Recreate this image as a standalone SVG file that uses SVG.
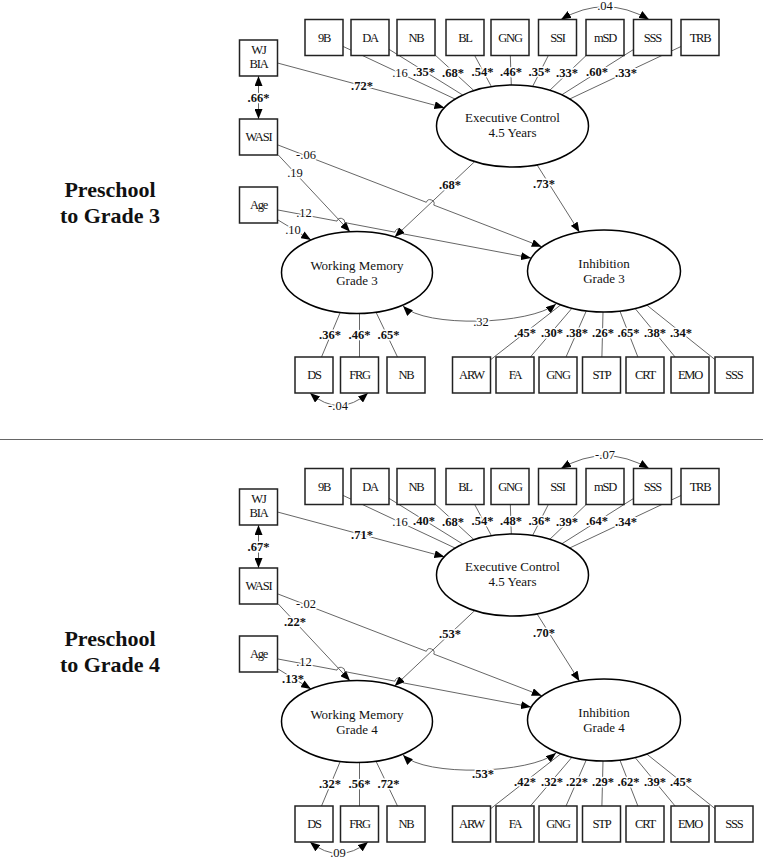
<svg xmlns="http://www.w3.org/2000/svg" width="764" height="861" viewBox="0 0 764 861">
<style>
.bx{fill:#fff;stroke:#222;stroke-width:1.5}
.el{fill:#fff;stroke:#000;stroke-width:1.5}
.bt{font-family:"Liberation Serif",serif;font-size:12.5px;text-anchor:middle;letter-spacing:-1.2px;fill:#111}
.et{font-family:"Liberation Serif",serif;font-size:13px;text-anchor:middle;fill:#111}
.ln{fill:none;stroke:#555;stroke-width:0.9}
.ar{marker-end:url(#ah)}
.ar2{marker-start:url(#ah);marker-end:url(#ah)}
.lbl{font-family:"Liberation Serif",serif;font-size:12.5px;text-anchor:middle;fill:#111;paint-order:stroke;stroke:#fff;stroke-width:3px;stroke-linejoin:round}
.b{font-weight:bold}
.pt{font-family:"Liberation Serif",serif;font-size:22px;font-weight:bold;text-anchor:middle;fill:#111}
</style>
<defs>
<marker id="ah" viewBox="0 0 10 8" refX="10" refY="4" markerWidth="10" markerHeight="8" orient="auto-start-reverse" markerUnits="userSpaceOnUse"><path d="M0,0 L10,4 L0,8 z" fill="#000"/></marker>
</defs>
<rect width="764" height="861" fill="#fff"/>

<g id="panel-g3">
<text class="pt" x="110" y="197">Preschool</text>
<text class="pt" x="110" y="223">to Grade 3</text>
<g id="g3-connectors">
<path class="ln ar2" d="M258.5,76 L258.5,119"/>
<path class="ln ar" d="M277.5,63 L444.4,107.8"/>
<path class="ln" d="M343,46.4 L455.2,99.1"/>
<path class="ln" d="M389,49.3 L462.7,95"/>
<path class="ln" d="M435,54.9 L474,90.7"/>
<path class="ln" d="M474.4,55 L491.4,86.6"/>
<path class="ln" d="M510.3,55 L511.3,85"/>
<path class="ln" d="M548.6,55 L532.6,86.5"/>
<path class="ln" d="M586.7,55 L549.8,90.3"/>
<path class="ln" d="M633.5,49.5 L561.8,94.8"/>
<path class="ln" d="M681,46.5 L569.7,99"/>
<path class="ln ar2" d="M561,19.5 Q605,-6 649,19.5"/>
<path class="ln ar" d="M278.3,155 L350,231.7"/>
<path class="ln ar" d="M278,145 L426.3,202.3 A4,4 0 0 1 433.8,205.1 L541.7,246.7"/>
<path class="ln ar" d="M278,220 L311,240"/>
<path class="ln ar" d="M278,210 L337,221.1 A4,4 0 0 1 344.8,222.6 L395,232.2 A4,4 0 0 1 402.9,233.8 L531,258"/>
<path class="ln ar" d="M474.7,161.6 L394.7,237"/>
<path class="ln ar" d="M537,164.8 L579.5,232.2"/>
<path class="ln ar2" d="M403,306 C425,328 530,325 556,304"/>
<path class="ln" d="M340.2,312.5 L321.5,357"/>
<path class="ln" d="M359.5,313.5 L359.5,357"/>
<path class="ln" d="M376,312.2 L397.5,357"/>
<path class="ln" d="M560.8,304.8 L490.4,359.9"/>
<path class="ln" d="M572,308.2 L530.4,357"/>
<path class="ln" d="M586.3,310.9 L566,357"/>
<path class="ln" d="M603,312 L601.9,357"/>
<path class="ln" d="M619.9,311.1 L637.9,357"/>
<path class="ln" d="M635.1,308.5 L675.1,357"/>
<path class="ln" d="M646.7,305 L715,359.6"/>
<path class="ln ar2" d="M310,393 Q339,418 368,393"/>
<text class="lbl b" x="258.5" y="102">.66*</text>
<text class="lbl b" x="362" y="90">.72*</text>
<text class="lbl" x="400" y="77">.16</text>
<text class="lbl b" x="424" y="76">.35*</text>
<text class="lbl b" x="453" y="77">.68*</text>
<text class="lbl b" x="482.5" y="76">.54*</text>
<text class="lbl b" x="511" y="76">.46*</text>
<text class="lbl b" x="539.5" y="76">.35*</text>
<text class="lbl b" x="567" y="77">.33*</text>
<text class="lbl b" x="597" y="76">.60*</text>
<text class="lbl b" x="626" y="77">.33*</text>
<text class="lbl" x="605" y="10">.04</text>
<text class="lbl" x="306" y="159">-.06</text>
<text class="lbl" x="295" y="177">.19</text>
<text class="lbl" x="304" y="217">.12</text>
<text class="lbl" x="293" y="234">.10</text>
<text class="lbl b" x="450" y="189">.68*</text>
<text class="lbl b" x="544" y="188">.73*</text>
<text class="lbl" x="481" y="326">.32</text>
<text class="lbl b" x="330" y="339">.36*</text>
<text class="lbl b" x="359.5" y="339">.46*</text>
<text class="lbl b" x="388.5" y="339">.65*</text>
<text class="lbl b" x="525" y="337">.45*</text>
<text class="lbl b" x="552" y="337">.30*</text>
<text class="lbl b" x="577" y="337">.38*</text>
<text class="lbl b" x="603" y="337">.26*</text>
<text class="lbl b" x="628.5" y="337">.65*</text>
<text class="lbl b" x="655" y="337">.38*</text>
<text class="lbl b" x="681" y="337">.34*</text>
<text class="lbl" x="338" y="410">-.04</text>
</g>
<g id="g3-wjbia"><rect class="bx" x="239.5" y="40" width="38" height="36"/><text class="bt" x="258.5" y="54">WJ</text><text class="bt" x="258.5" y="68">BIA</text></g>
<g id="g3-wasi"><rect class="bx" x="239.5" y="119" width="38" height="36"/><text class="bt" x="258.5" y="141">WASI</text></g>
<g id="g3-age"><rect class="bx" x="239.5" y="187" width="38" height="36"/><text class="bt" x="258.5" y="209">Age</text></g>
<g id="g3-9b"><rect class="bx" x="305" y="19.5" width="38" height="36"/><text class="bt" x="324" y="41.5">9B</text></g>
<g id="g3-da"><rect class="bx" x="351" y="19.5" width="38" height="36"/><text class="bt" x="370" y="41.5">DA</text></g>
<g id="g3-nb-ec"><rect class="bx" x="397" y="19.5" width="38" height="36"/><text class="bt" x="416" y="41.5">NB</text></g>
<g id="g3-bl"><rect class="bx" x="446" y="19.5" width="38" height="36"/><text class="bt" x="465" y="41.5">BL</text></g>
<g id="g3-gng-ec"><rect class="bx" x="491" y="19.5" width="38" height="36"/><text class="bt" x="510" y="41.5">GNG</text></g>
<g id="g3-ssi"><rect class="bx" x="538.5" y="19.5" width="38" height="36"/><text class="bt" x="557.5" y="41.5">SSI</text></g>
<g id="g3-msd"><rect class="bx" x="586" y="19.5" width="38" height="36"/><text class="bt" x="605" y="41.5">mSD</text></g>
<g id="g3-sss-ec"><rect class="bx" x="633.5" y="19.5" width="38" height="36"/><text class="bt" x="652.5" y="41.5">SSS</text></g>
<g id="g3-trb"><rect class="bx" x="681" y="19.5" width="38" height="36"/><text class="bt" x="700" y="41.5">TRB</text></g>
<g id="g3-ec"><ellipse class="el" cx="512.5" cy="126" rx="76" ry="41"/><text class="et" x="512.5" y="122">Executive Control</text><text class="et" x="512.5" y="137">4.5 Years</text></g>
<g id="g3-wm"><ellipse class="el" cx="357" cy="272.5" rx="75.5" ry="41"/><text class="et" x="357" y="270">Working Memory</text><text class="et" x="357" y="285">Grade 3</text></g>
<g id="g3-inh"><ellipse class="el" cx="604" cy="271" rx="76.5" ry="41"/><text class="et" x="604" y="268">Inhibition</text><text class="et" x="604" y="283">Grade 3</text></g>
<g id="g3-ds"><rect class="bx" x="295" y="357" width="38" height="36"/><text class="bt" x="314" y="379">DS</text></g>
<g id="g3-frg"><rect class="bx" x="340.5" y="357" width="38" height="36"/><text class="bt" x="359.5" y="379">FRG</text></g>
<g id="g3-nb-wm"><rect class="bx" x="387" y="357" width="38" height="36"/><text class="bt" x="406" y="379">NB</text></g>
<g id="g3-arw"><rect class="bx" x="452.5" y="357" width="38" height="36"/><text class="bt" x="471.5" y="379">ARW</text></g>
<g id="g3-fa"><rect class="bx" x="496" y="357" width="38" height="36"/><text class="bt" x="515" y="379">FA</text></g>
<g id="g3-gng-inh"><rect class="bx" x="539" y="357" width="38" height="36"/><text class="bt" x="558" y="379">GNG</text></g>
<g id="g3-stp"><rect class="bx" x="582.5" y="357" width="38" height="36"/><text class="bt" x="601.5" y="379">STP</text></g>
<g id="g3-crt"><rect class="bx" x="626" y="357" width="38" height="36"/><text class="bt" x="645" y="379">CRT</text></g>
<g id="g3-emo"><rect class="bx" x="671" y="357" width="38" height="36"/><text class="bt" x="690" y="379">EMO</text></g>
<g id="g3-sss-inh"><rect class="bx" x="715" y="357" width="38" height="36"/><text class="bt" x="734" y="379">SSS</text></g>
</g>

<line x1="0" y1="439.5" x2="763" y2="439.5" stroke="#666" stroke-width="1"/>

<g id="panel-g4" transform="translate(0,449)">
<text class="pt" x="110" y="197">Preschool</text>
<text class="pt" x="110" y="223">to Grade 4</text>
<g id="g4-connectors">
<path class="ln ar2" d="M258.5,76 L258.5,119"/>
<path class="ln ar" d="M277.5,63 L444.4,107.8"/>
<path class="ln" d="M343,46.4 L455.2,99.1"/>
<path class="ln" d="M389,49.3 L462.7,95"/>
<path class="ln" d="M435,54.9 L474,90.7"/>
<path class="ln" d="M474.4,55 L491.4,86.6"/>
<path class="ln" d="M510.3,55 L511.3,85"/>
<path class="ln" d="M548.6,55 L532.6,86.5"/>
<path class="ln" d="M586.7,55 L549.8,90.3"/>
<path class="ln" d="M633.5,49.5 L561.8,94.8"/>
<path class="ln" d="M681,46.5 L569.7,99"/>
<path class="ln ar2" d="M561,19.5 Q605,-6 649,19.5"/>
<path class="ln ar" d="M278.3,155 L350,231.7"/>
<path class="ln ar" d="M278,145 L426.3,202.3 A4,4 0 0 1 433.8,205.1 L541.7,246.7"/>
<path class="ln ar" d="M278,220 L311,240"/>
<path class="ln ar" d="M278,210 L337,221.1 A4,4 0 0 1 344.8,222.6 L395,232.2 A4,4 0 0 1 402.9,233.8 L531,258"/>
<path class="ln ar" d="M474.7,161.6 L394.7,237"/>
<path class="ln ar" d="M537,164.8 L579.5,232.2"/>
<path class="ln ar2" d="M403,306 C425,328 530,325 556,304"/>
<path class="ln" d="M340.2,312.5 L321.5,357"/>
<path class="ln" d="M359.5,313.5 L359.5,357"/>
<path class="ln" d="M376,312.2 L397.5,357"/>
<path class="ln" d="M560.8,304.8 L490.4,359.9"/>
<path class="ln" d="M572,308.2 L530.4,357"/>
<path class="ln" d="M586.3,310.9 L566,357"/>
<path class="ln" d="M603,312 L601.9,357"/>
<path class="ln" d="M619.9,311.1 L637.9,357"/>
<path class="ln" d="M635.1,308.5 L675.1,357"/>
<path class="ln" d="M646.7,305 L715,359.6"/>
<path class="ln ar2" d="M310,393 Q339,416 368,393"/>
<text class="lbl b" x="258.5" y="102">.67*</text>
<text class="lbl b" x="362" y="90">.71*</text>
<text class="lbl" x="400" y="77">.16</text>
<text class="lbl b" x="424" y="76">.40*</text>
<text class="lbl b" x="453" y="77">.68*</text>
<text class="lbl b" x="482.5" y="76">.54*</text>
<text class="lbl b" x="511" y="76">.48*</text>
<text class="lbl b" x="539.5" y="76">.36*</text>
<text class="lbl b" x="567" y="77">.39*</text>
<text class="lbl b" x="597" y="76">.64*</text>
<text class="lbl b" x="626" y="77">.34*</text>
<text class="lbl" x="605" y="10">-.07</text>
<text class="lbl" x="306" y="159">-.02</text>
<text class="lbl b" x="295" y="177">.22*</text>
<text class="lbl" x="304" y="217">.12</text>
<text class="lbl b" x="293" y="234">.13*</text>
<text class="lbl b" x="450" y="189">.53*</text>
<text class="lbl b" x="544" y="188">.70*</text>
<text class="lbl b" x="483" y="329">.53*</text>
<text class="lbl b" x="330" y="339">.32*</text>
<text class="lbl b" x="359.5" y="339">.56*</text>
<text class="lbl b" x="388.5" y="339">.72*</text>
<text class="lbl b" x="525" y="337">.42*</text>
<text class="lbl b" x="552" y="337">.32*</text>
<text class="lbl b" x="577" y="337">.22*</text>
<text class="lbl b" x="603" y="337">.29*</text>
<text class="lbl b" x="628.5" y="337">.62*</text>
<text class="lbl b" x="655" y="337">.39*</text>
<text class="lbl b" x="681" y="337">.45*</text>
<text class="lbl" x="338" y="408">.09</text>
</g>
<g id="g4-wjbia"><rect class="bx" x="239.5" y="40" width="38" height="36"/><text class="bt" x="258.5" y="54">WJ</text><text class="bt" x="258.5" y="68">BIA</text></g>
<g id="g4-wasi"><rect class="bx" x="239.5" y="119" width="38" height="36"/><text class="bt" x="258.5" y="141">WASI</text></g>
<g id="g4-age"><rect class="bx" x="239.5" y="187" width="38" height="36"/><text class="bt" x="258.5" y="209">Age</text></g>
<g id="g4-9b"><rect class="bx" x="305" y="19.5" width="38" height="36"/><text class="bt" x="324" y="41.5">9B</text></g>
<g id="g4-da"><rect class="bx" x="351" y="19.5" width="38" height="36"/><text class="bt" x="370" y="41.5">DA</text></g>
<g id="g4-nb-ec"><rect class="bx" x="397" y="19.5" width="38" height="36"/><text class="bt" x="416" y="41.5">NB</text></g>
<g id="g4-bl"><rect class="bx" x="446" y="19.5" width="38" height="36"/><text class="bt" x="465" y="41.5">BL</text></g>
<g id="g4-gng-ec"><rect class="bx" x="491" y="19.5" width="38" height="36"/><text class="bt" x="510" y="41.5">GNG</text></g>
<g id="g4-ssi"><rect class="bx" x="538.5" y="19.5" width="38" height="36"/><text class="bt" x="557.5" y="41.5">SSI</text></g>
<g id="g4-msd"><rect class="bx" x="586" y="19.5" width="38" height="36"/><text class="bt" x="605" y="41.5">mSD</text></g>
<g id="g4-sss-ec"><rect class="bx" x="633.5" y="19.5" width="38" height="36"/><text class="bt" x="652.5" y="41.5">SSS</text></g>
<g id="g4-trb"><rect class="bx" x="681" y="19.5" width="38" height="36"/><text class="bt" x="700" y="41.5">TRB</text></g>
<g id="g4-ec"><ellipse class="el" cx="512.5" cy="126" rx="76" ry="41"/><text class="et" x="512.5" y="122">Executive Control</text><text class="et" x="512.5" y="137">4.5 Years</text></g>
<g id="g4-wm"><ellipse class="el" cx="357" cy="272.5" rx="75.5" ry="41"/><text class="et" x="357" y="270">Working Memory</text><text class="et" x="357" y="285">Grade 4</text></g>
<g id="g4-inh"><ellipse class="el" cx="604" cy="271" rx="76.5" ry="41"/><text class="et" x="604" y="268">Inhibition</text><text class="et" x="604" y="283">Grade 4</text></g>
<g id="g4-ds"><rect class="bx" x="295" y="357" width="38" height="36"/><text class="bt" x="314" y="379">DS</text></g>
<g id="g4-frg"><rect class="bx" x="340.5" y="357" width="38" height="36"/><text class="bt" x="359.5" y="379">FRG</text></g>
<g id="g4-nb-wm"><rect class="bx" x="387" y="357" width="38" height="36"/><text class="bt" x="406" y="379">NB</text></g>
<g id="g4-arw"><rect class="bx" x="452.5" y="357" width="38" height="36"/><text class="bt" x="471.5" y="379">ARW</text></g>
<g id="g4-fa"><rect class="bx" x="496" y="357" width="38" height="36"/><text class="bt" x="515" y="379">FA</text></g>
<g id="g4-gng-inh"><rect class="bx" x="539" y="357" width="38" height="36"/><text class="bt" x="558" y="379">GNG</text></g>
<g id="g4-stp"><rect class="bx" x="582.5" y="357" width="38" height="36"/><text class="bt" x="601.5" y="379">STP</text></g>
<g id="g4-crt"><rect class="bx" x="626" y="357" width="38" height="36"/><text class="bt" x="645" y="379">CRT</text></g>
<g id="g4-emo"><rect class="bx" x="671" y="357" width="38" height="36"/><text class="bt" x="690" y="379">EMO</text></g>
<g id="g4-sss-inh"><rect class="bx" x="715" y="357" width="38" height="36"/><text class="bt" x="734" y="379">SSS</text></g>
</g>
</svg>
